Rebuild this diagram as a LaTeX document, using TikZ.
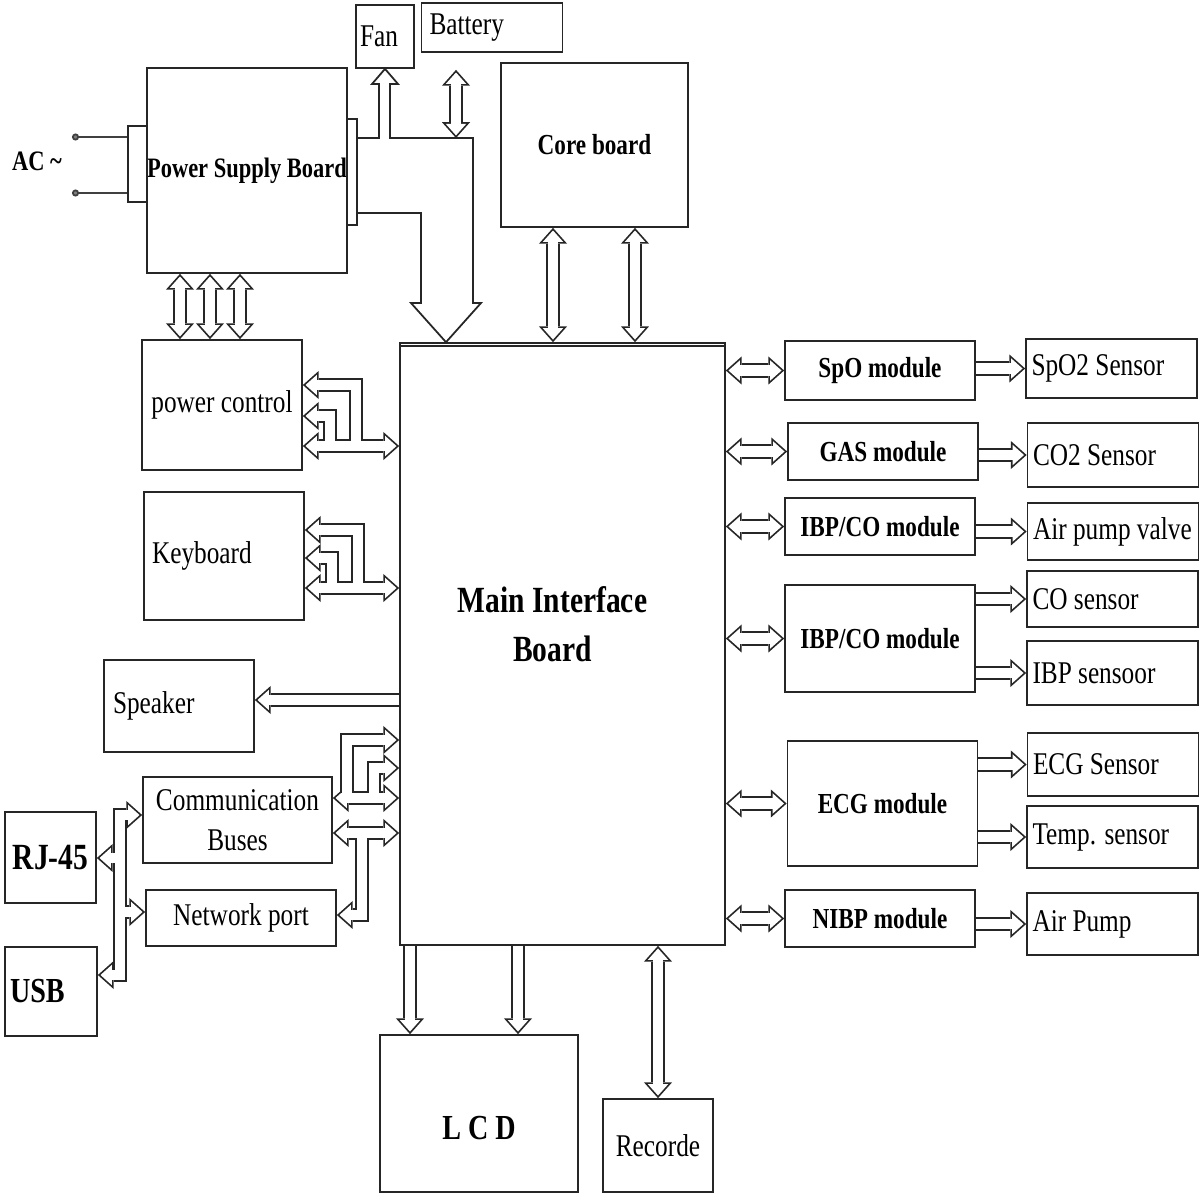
\documentclass[tikz,border=0pt]{standalone}
\usepackage{fontspec}
\setmainfont{Liberation Serif}[FakeStretch=0.8]
\usetikzlibrary{arrows.meta, calc}
\tikzset{
  tipout/.tip={Triangle[length=9pt, width=16pt, line width=0pt]},
  tipin/.tip={Triangle[length=6.5pt, width=11.6pt, line width=0pt]},
  blk/.style={draw=black!85, line width=1pt, inner sep=0pt, fill=white},
  lbl/.style={font=\fontsize{18}{23}\selectfont},
  blbl/.style={font=\fontsize{16.5}{19}\selectfont\bfseries},
  big/.style={font=\fontsize{21}{28}\selectfont\bfseries},
  modbox/.style={blk, blbl, minimum width=3.8cm},
  sens/.style={blk, minimum width=3.42cm, label={[lbl, anchor=west, inner sep=0pt, xshift=0.12cm]west:#1}},
  bus/.style={draw=black!85, line width=8pt, line join=miter, -tipout,
    postaction={draw=white, line width=6pt, -tipin, shorten >=1.5pt}},
  bibus/.style={draw=black!85, line width=8pt, line join=miter, tipout-tipout,
    postaction={draw=white, line width=6pt, tipin-tipin, shorten >=1.5pt, shorten <=1.5pt}},
  outl/.style={draw=black!85, line width=1pt, line join=miter},
}

\begin{document}
\begin{tikzpicture}[x=0.02cm, y=-0.02cm]
\useasboundingbox (0,0) rectangle (1199,1194);
\fill[white] (0,0) rectangle (1199,1194);

% top row
\node[blk, lbl, minimum height=1.26cm, text width=1.0cm, inner xsep=0.08cm] (fan) at (385,36.5) {Fan};
\node[blk, lbl, minimum height=0.98cm, text width=2.5cm, inner xsep=0.16cm] (bat) at (492,27.5) {Battery};
\node[blk, font=\fontsize{16}{19}\selectfont\bfseries, minimum width=4cm, minimum height=4.1cm] (psb) at (247,170.5) {Power Supply Board};
\node[blk, minimum width=0.38cm, minimum height=1.52cm] (lcon) at (137.5,164) {};
\node[blk, minimum width=0.2cm, minimum height=2.12cm] (rcon) at (352,172) {};
\node[font=\fontsize{16}{19}\selectfont\bfseries] (ac) at (37,161) {AC \textasciitilde};
\node[blk, blbl, minimum width=3.74cm, minimum height=3.28cm] (core) at (594.5,145) {Core board};

% main board
\node[blk, minimum width=6.5cm, minimum height=12.04cm,
  label={[big, align=center, xshift=-0.2cm, yshift=0.4cm]center:Main Interface\\Board}] (main) at (562.5,644) {};
\draw[draw=black!85, line width=1pt] ([yshift=-0.08cm]main.north west) -- ([yshift=-0.08cm]main.north east);

% left column
\node[blk, lbl, minimum width=3.2cm, minimum height=2.6cm] (pc) at (222,405) {power control};
\node[blk, lbl, minimum height=2.56cm, text width=2.88cm, inner xsep=0.16cm] (kb) at (224,556) {Keyboard};
\node[blk, lbl, minimum height=1.84cm, text width=2.64cm, inner xsep=0.18cm] (spk) at (179,706) {Speaker};
\node[blk, lbl, align=center, minimum width=3.78cm, minimum height=1.72cm] (comm) at (237.5,820) {Communication\\Buses};
\node[blk, lbl, minimum width=3.8cm, minimum height=1.12cm] (net) at (241,918) {Network port};
\node[blk, big, minimum width=1.82cm, minimum height=1.82cm] (rj) at (50.5,857.5) {RJ-45};
\node[blk, font=\fontsize{20}{24}\selectfont\bfseries, minimum height=1.78cm, text width=1.64cm, inner xsep=0.1cm] (usb) at (51,991.5) {USB};

% bottom
\node[blk, minimum width=3.96cm, minimum height=3.14cm,
  label={[font=\fontsize{20}{24}\selectfont\bfseries, yshift=-0.3cm]center:L C D}] (lcd) at (479,1113.5) {};
\node[blk, lbl, minimum width=2.2cm, minimum height=1.86cm] (rec) at (658,1145.5) {Recorde};

% modules
\node[modbox, minimum height=1.18cm] (spo) at (880,370.5) {SpO module};
\node[modbox, minimum height=1.14cm] (gas) at (883,451.5) {GAS module};
\node[modbox, minimum height=1.14cm] (ibp1) at (880,526.5) {IBP/CO module};
\node[modbox, minimum height=2.14cm] (ibp2) at (880,638.5) {IBP/CO module};
\node[modbox, minimum height=2.5cm] (ecg) at (882.5,803.5) {ECG module};
\node[modbox, minimum height=1.14cm] (nibp) at (880,918.5) {NIBP module};

% sensors
\node[sens=SpO2 Sensor, minimum height=1.18cm] (spo2) at (1111.5,368.5) {};
\node[sens=CO2 Sensor, minimum height=1.28cm] (co2) at (1113,455) {};
\node[sens=Air pump valve, minimum height=1.14cm] (apv) at (1113,531.5) {};
\node[sens=CO sensor, minimum height=1.12cm] (cos) at (1112.5,599) {};
\node[sens=IBP sensoor, minimum height=1.28cm] (ibps) at (1112.5,673) {};
\node[sens=ECG Sensor, minimum height=1.26cm] (ecgs) at (1113,764.5) {};
\node[sens=Temp. sensor, minimum height=1.24cm] (temp) at (1112.5,837) {};
\node[sens=Air Pump, minimum height=1.24cm] (airp) at (1112.5,924) {};

% power input
\foreach \y in {137,193}
  \draw[draw=black!75, line width=1pt, -{Circle[length=4pt, fill=gray]}] (lcon.west |- 0,\y) -- (72,\y);

% power out to fan and main board
\draw[outl] (rcon.east |- 0,138) -- (379,138) -- (379,84) -- (372,84) -- (fan.south)
  -- (398,84) -- (390,84) -- (390,138) -- (473,138) -- (473,303) -- (481,303)
  -- (main.north -| 446,0) -- (411,303) -- (421,303) -- (421,213) -- (rcon.east |- 0,213);
\draw[bibus] ($(bat.south -| 456,0)+(0,17)$) -- (456,138);

% core board
\foreach \x in {553,635}
  \draw[bibus] (core.south -| \x,0) -- (main.north -| \x,0);

% power supply to power control
\foreach \x in {180,210,240}
  \draw[bibus] (psb.south -| \x,0) -- (pc.north -| \x,0);

% power control
\draw[bibus] (pc.east |- 0,446) -- (main.west |- 0,446);
\draw[bus] (356,441) |- (pc.east |- 0,385);
\draw[bus] (330,441) |- (pc.east |- 0,416);

% keyboard
\draw[bibus] (kb.east |- 0,588) -- (main.west |- 0,588);
\draw[bus] (358,583) |- (kb.east |- 0,530);
\draw[bus] (332,583) |- (kb.east |- 0,558);

% speaker
\draw[bus] (main.west |- 0,700) -- (spk.east |- 0,700);

% communication
\draw[bibus] (comm.east |- 0,798) -- (main.west |- 0,798);
\draw[bibus] (comm.east |- 0,833) -- (main.west |- 0,833);
\draw[bus] (347,793) |- (main.west |- 0,740);
\draw[bus] (374,793) |- (main.west |- 0,768);
\draw[bus] (362,838) |- (net.east |- 0,915);

% external ports
\draw[bibus] (rj.east |- 0,858) -| (120,815) -- (comm.west |- 0,815);
\draw[bus] (120,863) |- (net.west |- 0,912);
\draw[bus] (120,917) |- (usb.east |- 0,975);

% modules and sensors
\foreach \m in {spo,gas,ibp1,ibp2,ecg,nibp}
  \draw[bibus] (main.east |- \m) -- (\m);
\foreach \m/\s in {spo/spo2,gas/co2,ibp1/apv,ibp2/cos,ibp2/ibps,ecg/ecgs,ecg/temp,nibp/airp}
  \draw[bus] (\m.east |- \s) -- (\s);

% display and recorder
\foreach \x in {410,518}
  \draw[bus] (main.south -| \x,0) -- (lcd.north -| \x,0);
\draw[bibus] (main.south -| rec) -- (rec);
\end{tikzpicture}
\end{document}
